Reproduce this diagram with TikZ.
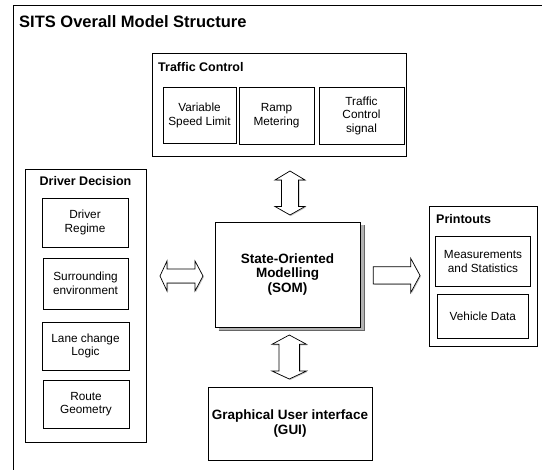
\documentclass[tikz,border=0pt]{standalone}
\usepackage{fontspec}
\setmainfont{Liberation Sans}
\begin{document}
\begin{tikzpicture}[x=1pt,y=-1pt,
  box/.style={draw,line width=0.8pt,inner sep=0pt,align=center,fill=white},
  innertext/.style={font=\fontsize{11.8}{13.6}\selectfont},
  bigtext/.style={font=\fontsize{13.5}{14.6}\selectfont\bfseries},
  grouptitle/.style={font=\fontsize{12.5}{14}\selectfont\bfseries,inner sep=0pt},
  blockarrow/.style={draw,line width=0.7pt,fill=white,line join=miter},
  arrowshadow/.style={fill=gray!45}
]
\useasboundingbox (0,0) rectangle (542,470);
% outer frame
\draw[line width=1.7pt] (13.5,480) -- (13.5,5.5) -- (548,5.5);
\node[font=\fontsize{16.5}{18}\selectfont\bfseries,anchor=base west,inner sep=0pt] (title) at (19,27.3) {SITS Overall Model Structure};

% Traffic Control
\node[box,minimum width=254pt,minimum height=103pt] (tc) at (279,104.5) {};
\node[grouptitle,anchor=base west] (tct) at (158,71.7) {Traffic Control};
\node[box,innertext,minimum width=73pt,minimum height=56pt] (vsl) at (199.5,115.3) {Variable\\Speed Limit};
\node[box,innertext,minimum width=75pt,minimum height=57pt] (ramp) at (276.5,115.7) {Ramp\\Metering};
\node[box,innertext,minimum width=85pt,minimum height=57pt] (tcs) at (361.5,115.7) {Traffic\\Control\\signal};

% Driver Decision
\node[box,minimum width=121pt,minimum height=273pt] (dd) at (85.5,305.5) {};
\node[grouptitle,anchor=base] (ddt) at (85.5,186) {Driver Decision};
\node[box,innertext,minimum width=86pt,minimum height=49pt] (dr) at (85,222.5) {Driver\\Regime};
\node[box,innertext,minimum width=85pt,minimum height=51pt] (se) at (85.5,283.5) {Surrounding\\environment};
\node[box,innertext,minimum width=87pt,minimum height=48pt] (lc) at (85.5,346) {Lane change\\Logic};
\node[box,innertext,minimum width=86pt,minimum height=48pt] (rg) at (86,404) {Route\\Geometry};

% SOM with shadow
\fill[gray!60] (218.5,225.5) rectangle (364,330.5);
\draw[gray!80!black,line width=0.5pt] (218.5,330.5) -- (364,330.5) -- (364,225.5);
\node[box,bigtext,minimum width=145pt,minimum height=105pt] (som) at (287.5,274.5) {State-Oriented\\Modelling\\(SOM)};

% GUI
\node[box,bigtext,minimum width=164pt,minimum height=73pt] (gui) at (290,423.5) {Graphical User interface\\(GUI)};

% Printouts
\node[box,minimum width=108pt,minimum height=140pt] (pr) at (483,276) {};
\node[grouptitle,anchor=base west] (prt) at (436,224) {Printouts};
\node[box,innertext,minimum width=95.7pt,minimum height=49.3pt] (meas) at (483,261.3) {Measurements\\and Statistics};
\node[box,innertext,minimum width=91pt,minimum height=44pt] (vd) at (482.8,316.3) {Vehicle Data};

% block arrows
% top: Traffic Control <-> SOM
\begin{scope}[shift={(1,1)}]
\fill[arrowshadow] (290,171) -- (305,180) -- (298.5,180) -- (298.5,206.5) -- (305,206.5) -- (290,215) -- (275,206.5) -- (281.5,206.5) -- (281.5,180) -- (275,180) -- cycle;
\end{scope}
\draw[blockarrow] (290,171) -- (305,180) -- (298.5,180) -- (298.5,206.5) -- (305,206.5) -- (290,215) -- (275,206.5) -- (281.5,206.5) -- (281.5,180) -- (275,180) -- cycle;
% bottom: SOM <-> GUI
\begin{scope}[shift={(1,1)}]
\fill[arrowshadow] (289.3,335) -- (306.5,344.3) -- (299.5,344.3) -- (299.5,371) -- (306.5,371) -- (289.3,379) -- (272,371) -- (279,371) -- (279,344.3) -- (272,344.3) -- cycle;
\end{scope}
\draw[blockarrow] (289.3,335) -- (306.5,344.3) -- (299.5,344.3) -- (299.5,371) -- (306.5,371) -- (289.3,379) -- (272,371) -- (279,371) -- (279,344.3) -- (272,344.3) -- cycle;
% left: Driver Decision <-> SOM
\begin{scope}[shift={(1,1)}]
\fill[arrowshadow] (160,276) -- (167,261) -- (167,269) -- (195,269) -- (195,261) -- (203,276) -- (195,291) -- (195,283) -- (167,283) -- (167,291) -- cycle;
\end{scope}
\draw[blockarrow] (160,276) -- (167,261) -- (167,269) -- (195,269) -- (195,261) -- (203,276) -- (195,291) -- (195,283) -- (167,283) -- (167,291) -- cycle;
% right: SOM -> Printouts
\begin{scope}[shift={(1,1)}]
\fill[arrowshadow] (373.3,266.7) -- (410.7,266.7) -- (410.7,258.3) -- (420,275.5) -- (410.7,292.7) -- (410.7,284) -- (373.3,284) -- cycle;
\end{scope}
\draw[blockarrow] (373.3,266.7) -- (410.7,266.7) -- (410.7,258.3) -- (420,275.5) -- (410.7,292.7) -- (410.7,284) -- (373.3,284) -- cycle;
\end{tikzpicture}
\end{document}
